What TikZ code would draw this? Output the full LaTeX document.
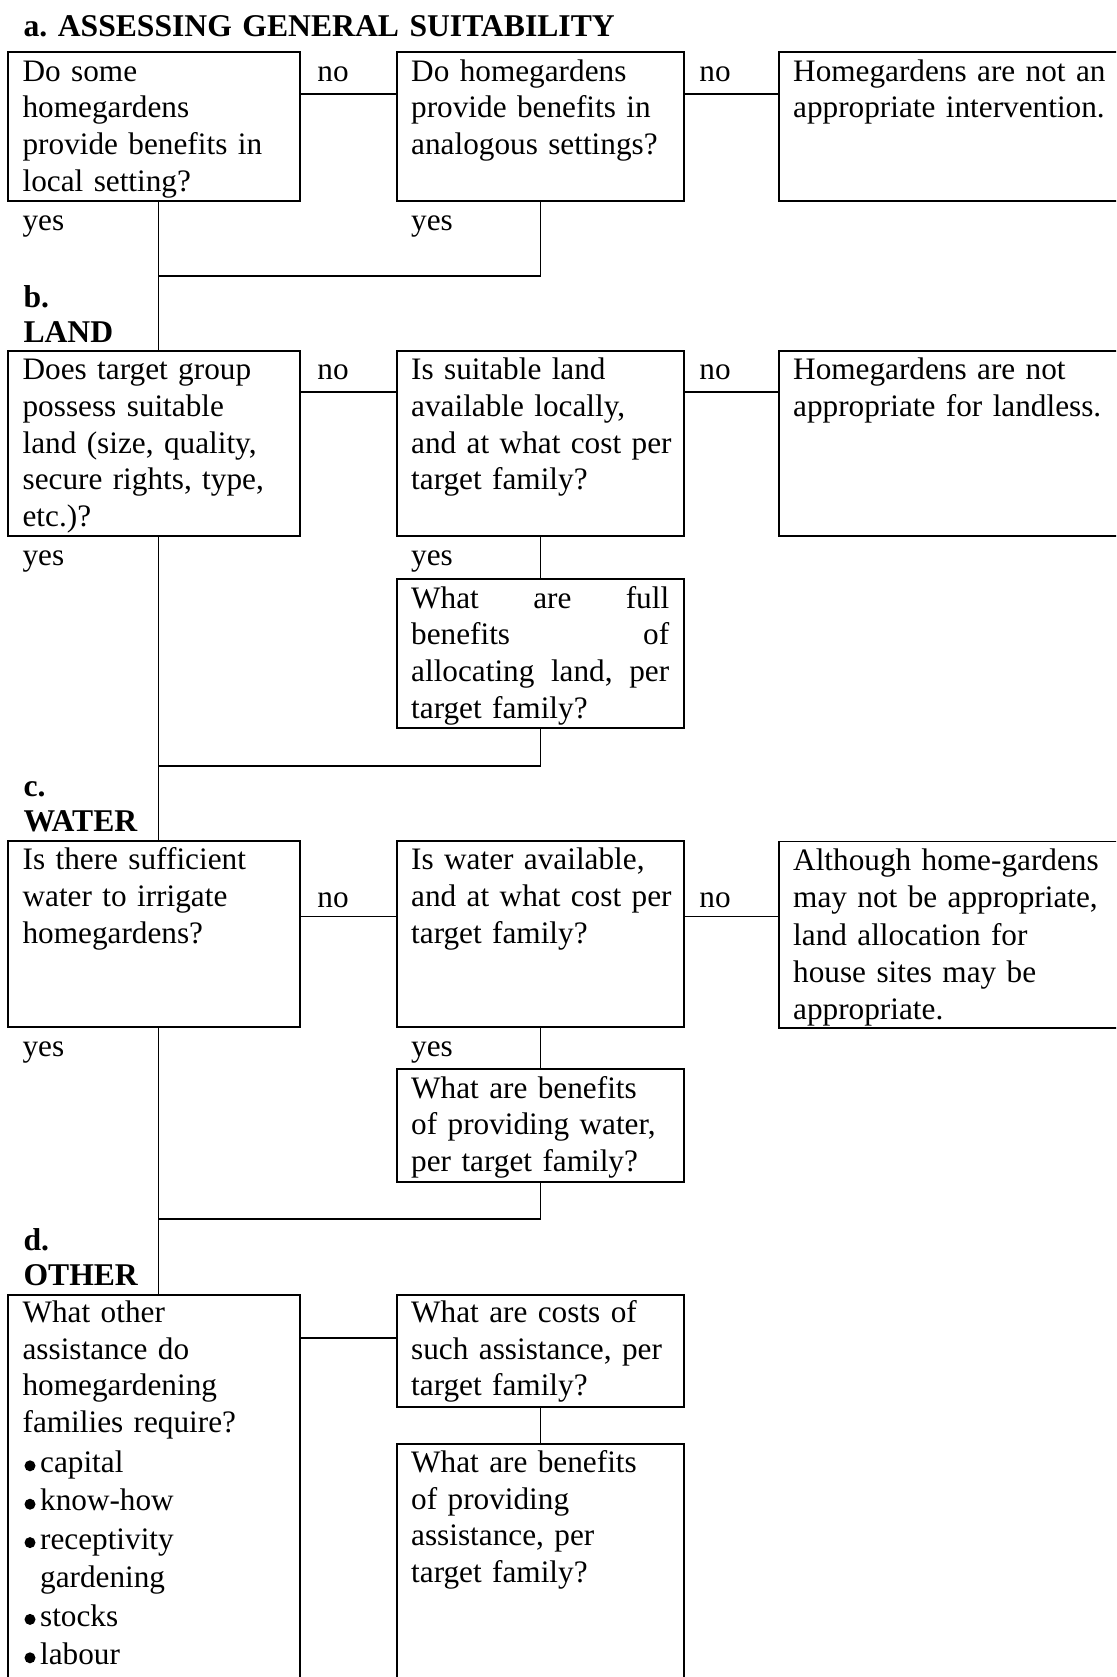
\documentclass[tikz,border=0pt]{standalone}
\usepackage{fontspec}
\setmainfont{Liberation Serif}
\usetikzlibrary{calc, fit}
\frenchspacing

\begin{document}
\begin{tikzpicture}[x=0.376pt, y=-0.376pt,
		box/.style = {draw, line width=0.7pt, inner sep=0pt},
		link/.style = {line width=0.7pt},
		txt/.style = {anchor=base west, inner sep=0pt, align=left, text width=125pt, font=\fontsize{11.75pt}{13.8pt}\selectfont},
		head/.style = {anchor=base west, inner sep=0pt, align=left, text width=260pt, font=\bfseries\fontsize{11.9pt}{13.2pt}\selectfont}]
		\def\xa{7.6};
		\def\xb{300};
		\def\xc{397};
		\def\xd{684};
		\def\xe{779};
		\def\xf{1130};

		\useasboundingbox (0,0) rectangle (1116,1677);
		\clip (0,0) rectangle (1116,1677);

		\coordinate (spine) at (158.5,0);
		\coordinate (join a) at (158.5,275.7);
		\coordinate (join b) at (158.5,765.7);
		\coordinate (join c) at (158.5,1219.3);
		\coordinate (no a) at (0,94.3);
		\coordinate (no b) at (0,392);
		\coordinate (no c) at (0,916.5);
		\coordinate (no d) at (0,1338.3);

		\node at (23,36) [head] (title) {a. ASSESSING GENERAL SUITABILITY};
		\node at (23,307) [head] (land) {b.\\LAND};
		\node at (23,796) [head] (water) {c.\\WATER};
		\node at (23,1250) [head] (other) {d.\\OTHER};

		\node [box, fit={(\xa,52) (\xb,201)}] (a1) {};
		\node [box, fit={(\xc,52) (\xd,201)}] (a2) {};
		\node [box, fit={(\xe,52) (\xf,201)}] (a3) {};
		\node [box, fit={(\xa,350.7) (\xb,535.7)}] (b1) {};
		\node [box, fit={(\xc,350.7) (\xd,535.7)}] (b2) {};
		\node [box, fit={(\xe,350.7) (\xf,535.7)}] (b3) {};
		\node [box, fit={(\xc,579) (\xd,727.7)}] (b4) {};
		\node [box, fit={(\xa,840.7) (\xb,1026.7)}] (c1) {};
		\node [box, fit={(\xc,840.7) (\xd,1026.7)}] (c2) {};
		\node [box, fit={(\xe,841.5) (\xf,1028)}] (c3) {};
		\node [box, fit={(\xc,1069) (\xd,1181.7)}] (c4) {};
		\node [box, fit={(\xa,1294.7) (\xb,1720)}] (d1) {};
		\node [box, fit={(\xc,1294.7) (\xd,1406.7)}] (d2) {};
		\node [box, fit={(\xc,1444.3) (\xd,1720)}] (d3) {};

		\node at ($(a1.north west)+(15.4,30)$) [txt] (a1 text) {Do some\\homegardens\\provide benefits in\\local setting?};
		\node at ($(a2.north west)+(14.6,30)$) [txt] (a2 text) {Do homegardens\\provide benefits in\\analogous settings?};
		\node at ($(a3.north west)+(14.6,30)$) [txt] (a3 text) {Homegardens are not an\\appropriate intervention.};
		\node at ($(b1.north west)+(15.4,30)$) [txt] (b1 text) {Does target group\\possess suitable\\land (size, quality,\\secure rights, type,\\etc.)?};
		\node at ($(b2.north west)+(14.6,30)$) [txt] (b2 text) {Is suitable land\\available locally,\\and at what cost per\\target family?};
		\node at ($(b3.north west)+(14.6,30)$) [txt] (b3 text) {Homegardens are not\\appropriate for landless.};
		\node at ($(b4.north west)+(14.6,30)$) [txt, text width=97pt] (b4 text) {What\hfill are\hfill full\\benefits\hfill of\\allocating\hfill land,\hfill per\\target family?};
		\node at ($(c1.north west)+(15.4,30)$) [txt] (c1 text) {Is there sufficient\\water to irrigate\\homegardens?};
		\node at ($(c2.north west)+(14.6,30)$) [txt] (c2 text) {Is water available,\\and at what cost per\\target family?};
		\node at ($(c3.north west)+(14.6,30)$) [txt, font=\fontsize{11.75pt}{14pt}\selectfont] (c3 text) {Although home-gardens\\may not be appropriate,\\land allocation for\\house sites may be\\appropriate.};
		\node at ($(c4.north west)+(14.6,30)$) [txt] (c4 text) {What are benefits\\of providing water,\\per target family?};
		\node at ($(d1.north west)+(15.4,28.6)$) [txt] (d1 text) {What other\\assistance do\\homegardening\\families require?\\[1.2pt]\hspace*{6.6pt}capital\\[0.65pt]\hspace*{6.6pt}know-how\\[0.65pt]\hspace*{6.6pt}receptivity\\[0.65pt]\hspace*{6.6pt}gardening\\[0.65pt]\hspace*{6.6pt}stocks\\[0.65pt]\hspace*{6.6pt}labour};
		\node at ($(d2.north west)+(14.6,28.6)$) [txt] (d2 text) {What are costs of\\such assistance, per\\target family?};
		\node at ($(d3.north west)+(14.6,29)$) [txt] (d3 text) {What are benefits\\of providing\\assistance, per\\target family?};

		\foreach \y in {1473.3, 1511.7, 1550.1, 1626.9, 1665.3}
			\fill (30,\y-7.5) circle [radius = 5.5];

		\node at ($(a1.north east)+(16,30)$) [txt] (a no 1) {no};
		\node at ($(a2.north east)+(14,30)$) [txt] (a no 2) {no};
		\node at ($(b1.north east)+(16,30)$) [txt] (b no 1) {no};
		\node at ($(b2.north east)+(14,30)$) [txt] (b no 2) {no};
		\node at ($(c1.north east)+(16,67.5)$) [txt] (c no 1) {no};
		\node at ($(c2.north east)+(14,67.5)$) [txt] (c no 2) {no};

		\node at ($(a1.south west)+(15.4,28.6)$) [txt] (a yes 1) {yes};
		\node at ($(a2.south west)+(14.6,28.6)$) [txt] (a yes 2) {yes};
		\node at ($(b1.south west)+(15.4,28.6)$) [txt] (b yes 1) {yes};
		\node at ($(b2.south west)+(14.6,28.6)$) [txt] (b yes 2) {yes};
		\node at ($(c1.south west)+(15.4,28.6)$) [txt] (c yes 1) {yes};
		\node at ($(c2.south west)+(14.6,28.6)$) [txt] (c yes 2) {yes};

		\draw [link] (a1.east |- no a) -- (a2.west |- no a);
		\draw [link] (a2.east |- no a) -- (a3.west |- no a);
		\draw [link] (b1.east |- no b) -- (b2.west |- no b);
		\draw [link] (b2.east |- no b) -- (b3.west |- no b);
		\draw [link] (c1.east |- no c) -- (c2.west |- no c);
		\draw [link] (c2.east |- no c) -- (c3.west |- no c);
		\draw [link] (d1.east |- no d) -- (d2.west |- no d);

		\draw [link] (a1.south -| spine) -- (b1.north -| spine);
		\draw [link] (b1.south -| spine) -- (c1.north -| spine);
		\draw [link] (c1.south -| spine) -- (d1.north -| spine);

		\draw [link] (a2.south) |- (join a);
		\draw [link] (b2) -- (b4);
		\draw [link] (b4.south) |- (join b);
		\draw [link] (c2) -- (c4);
		\draw [link] (c4.south) |- (join c);
		\draw [link] (d2) -- (d3);
	\end{tikzpicture}
\end{document}
